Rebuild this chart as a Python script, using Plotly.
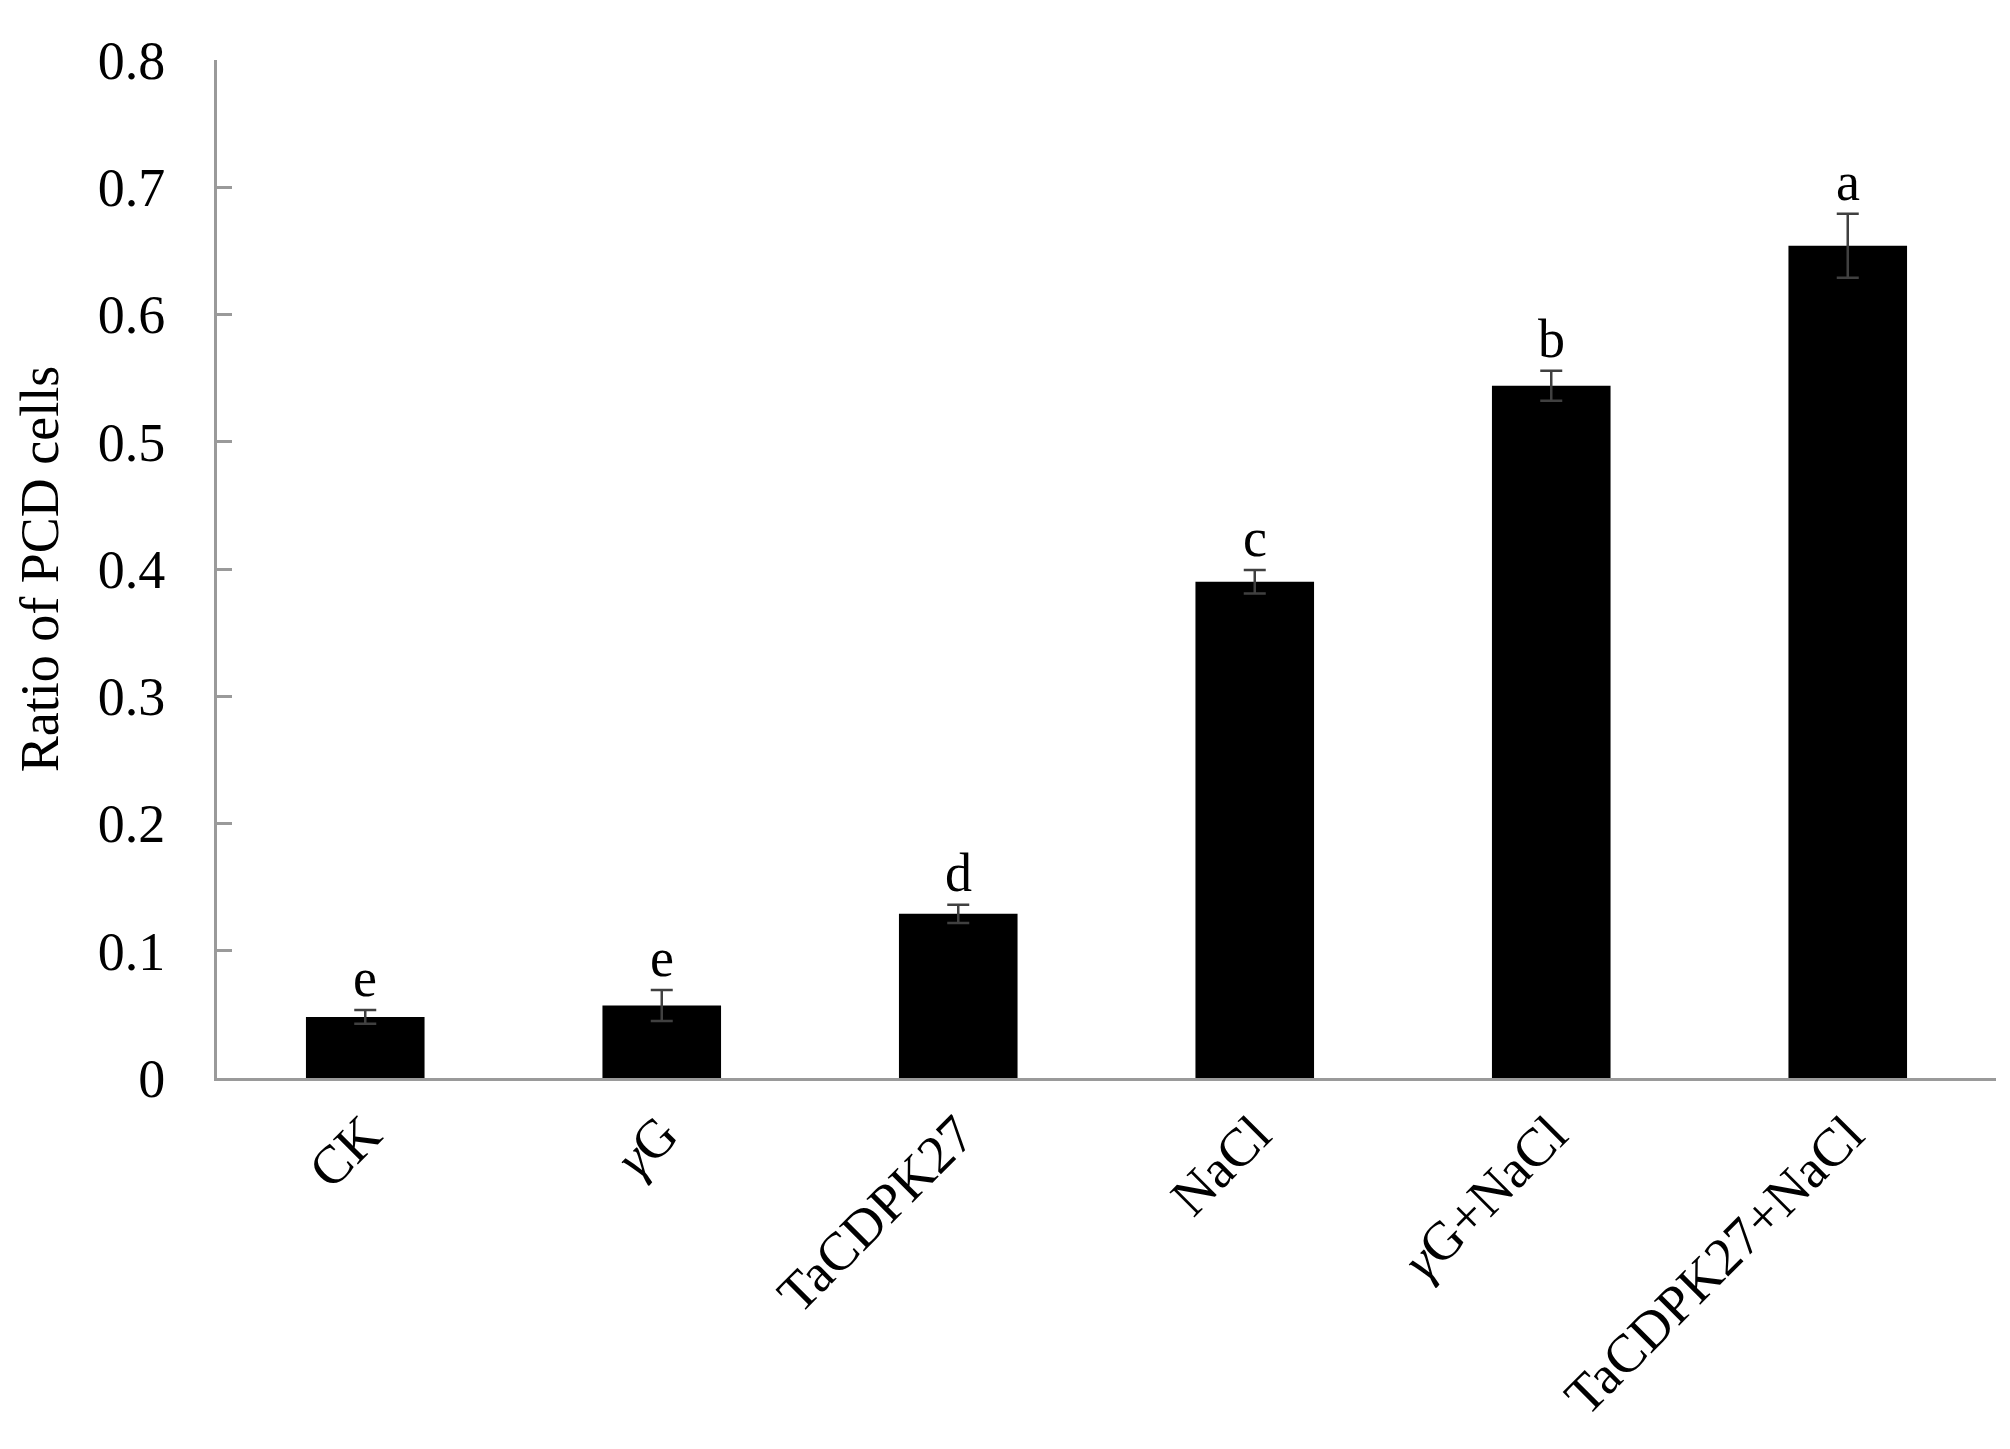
import plotly.graph_objs as go

# treatments and ratio of PCD cells (mean +/- error)
treatments = ['CK', '<i>γ</i>G', 'TaCDPK27', 'NaCl', '<i>γ</i>G+NaCl', 'TaCDPK27+NaCl']
ratio_mean = [0.048, 0.057, 0.129, 0.390, 0.544, 0.654]
ratio_err = [0.0054, 0.0122, 0.0071, 0.0093, 0.0118, 0.0251]
sig_letters = ['e', 'e', 'd', 'c', 'b', 'a']

y_ticks = [0, 0.1, 0.2, 0.3, 0.4, 0.5, 0.6, 0.7, 0.8]
y_ticktext = ['0', '0.1', '0.2', '0.3', '0.4', '0.5', '0.6', '0.7', '0.8']

FONT = 'Liberation Serif'
AXIS_GREY = '#9a9a9a'

fig = go.Figure()
fig.add_trace(go.Bar(
    x=treatments,
    y=ratio_mean,
    marker=dict(color='black', line=dict(width=0)),
    error_y=dict(type='data', array=ratio_err, visible=True,
                 color='#404040', thickness=2.5, width=11),
))

# letters above the error bars
for t, m, e, s in zip(treatments, ratio_mean, ratio_err, sig_letters):
    fig.add_annotation(x=t, y=m + e, text=s, showarrow=False,
                       yanchor='bottom', yshift=0,
                       font=dict(family=FONT, size=54, color='black'))

fig.update_layout(
    width=2010, height=1449,
    margin=dict(l=209, r=22, t=52, b=379),
    paper_bgcolor='white', plot_bgcolor='white',
    font=dict(family=FONT, size=54, color='black'),
    bargap=0.6,
    showlegend=False,
)

fig.update_xaxes(
    showline=True, linecolor=AXIS_GREY, linewidth=3,
    ticks='', tickangle=-45, showgrid=False,
    ticklabelstandoff=0,
    tickfont=dict(family=FONT, size=54, color='black'),
)
fig.update_yaxes(
    range=[0, 0.8], tickvals=y_ticks, ticktext=y_ticktext,
    showline=True, linecolor=AXIS_GREY, linewidth=3,
    ticks='inside', ticklen=15, tickwidth=3, tickcolor=AXIS_GREY,
    ticklabelstandoff=38,
    showgrid=False, zeroline=False,
    tickfont=dict(family=FONT, size=54, color='black'),
    title=dict(text='Ratio of PCD cells', standoff=22,
               font=dict(family=FONT, size=54, color='black')),
)

fig.write_html("out.html")
